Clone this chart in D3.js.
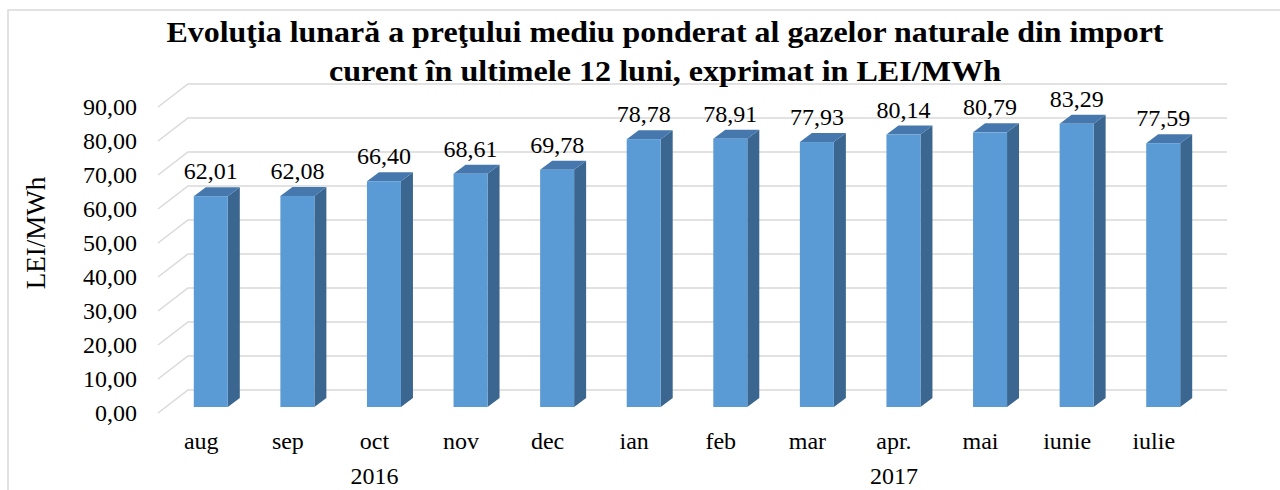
<!DOCTYPE html>
<html>
<head>
<meta charset="utf-8">
<script src="https://cdn.jsdelivr.net/npm/d3@7"></script>
<style>
  body { margin: 0; background: #fff; }
  text { font-family: "Liberation Serif", "Times New Roman", serif; fill: #000; }
</style>
</head>
<body>
<svg id="chart" width="1280" height="490"></svg>
<script>
var months = ["aug","sep","oct","nov","dec","ian","feb","mar","apr.","mai","iunie","iulie"];
var prices = [62.01, 62.08, 66.40, 68.61, 69.78, 78.78, 78.91, 77.93, 80.14, 80.79, 83.29, 77.59];
var years = [{label: "2016", from: 0, to: 4}, {label: "2017", from: 5, to: 11}];
var yTicks = [0, 10, 20, 30, 40, 50, 60, 70, 80, 90];
var titleLines = [
  "Evoluţia lunară a preţului mediu ponderat al gazelor naturale din import",
  "curent în ultimele 12 luni, exprimat in LEI/MWh"
];
var titleWidths = [997, 672];

var svg = d3.select("#chart");
var fmt = function(v) { return d3.format(".2f")(v).replace(".", ","); };

// 3d wall offset and bar offsets
var wallDx = 30, wallDy = -23;
var barDx = 9.5, barDy = -6;
var sideDx = 12, sideDy = -9;
var barW = 34;

var x = d3.scaleBand().domain(months).range([158, 1197]).padding(0);
var y = d3.scaleLinear().domain([0, 90]).range([413, 107]);

// outer frame
svg.append("path")
  .attr("d", "M8,490 L8,10 L1280,10")
  .attr("fill", "none")
  .attr("stroke", "#D9D9D9")
  .attr("stroke-width", 1.5);

// gridlines (floor edge + back wall)
svg.append("g").selectAll("path")
  .data(yTicks)
  .enter()
  .append("path")
  .attr("d", function(d) {
    var yy = y(d);
    return "M" + x.range()[0] + "," + yy +
      " L" + (x.range()[0] + wallDx) + "," + (yy + wallDy) +
      " L" + (x.range()[1] + wallDx) + "," + (yy + wallDy);
  })
  .attr("fill", "none")
  .attr("stroke", "#D9D9D9")
  .attr("stroke-width", 1.5);

// y tick labels
svg.append("g").selectAll("text")
  .data(yTicks)
  .enter()
  .append("text")
  .attr("x", 137)
  .attr("y", function(d) { return y(d); })
  .attr("dy", "0.35em")
  .attr("text-anchor", "end")
  .style("font-size", "24px")
  .text(fmt);

// bars
var bars = svg.append("g").selectAll("g")
  .data(prices)
  .enter()
  .append("g");

function barLeft(i) { return x(months[i]) + (x.bandwidth() - barW) / 2 + barDx; }
function barTop(d) { return y(d) + barDy; }
var barBottom = y(0) + barDy;

// side face
bars.append("path")
  .attr("d", function(d, i) {
    var r = barLeft(i) + barW, t = barTop(d);
    return "M" + r + "," + t + " L" + (r + sideDx) + "," + (t + sideDy) +
      " L" + (r + sideDx) + "," + (barBottom + sideDy) + " L" + r + "," + barBottom + "Z";
  })
  .attr("fill", "#3B6690");
// top face
bars.append("path")
  .attr("d", function(d, i) {
    var l = barLeft(i), t = barTop(d);
    return "M" + l + "," + t + " L" + (l + sideDx) + "," + (t + sideDy) +
      " L" + (l + barW + sideDx) + "," + (t + sideDy) + " L" + (l + barW) + "," + t + "Z";
  })
  .attr("fill", "#4678AE");
// front face
bars.append("rect")
  .attr("x", function(d, i) { return barLeft(i); })
  .attr("y", function(d) { return barTop(d); })
  .attr("width", barW)
  .attr("height", function(d) { return barBottom - barTop(d); })
  .attr("fill", "#5B9BD5");

// value labels
bars.append("text")
  .attr("x", function(d, i) { return barLeft(i) + barW / 2; })
  .attr("y", function(d) { return barTop(d) - 17; })
  .attr("text-anchor", "middle")
  .style("font-size", "24px")
  .text(fmt);

// month labels
svg.append("g").selectAll("text")
  .data(months)
  .enter()
  .append("text")
  .attr("x", function(d) { return x(d) + x.bandwidth() / 2; })
  .attr("y", 449)
  .attr("text-anchor", "middle")
  .style("font-size", "24px")
  .text(function(d) { return d; });

// year labels
svg.append("g").selectAll("text")
  .data(years)
  .enter()
  .append("text")
  .attr("x", function(d) {
    return (x(months[d.from]) + x(months[d.to]) + x.bandwidth()) / 2;
  })
  .attr("y", 484)
  .attr("text-anchor", "middle")
  .style("font-size", "24px")
  .text(function(d) { return d.label; });

// axis title
svg.append("text")
  .attr("transform", "translate(45,233) rotate(-90)")
  .attr("text-anchor", "middle")
  .style("font-size", "27px")
  .text("LEI/MWh");

// chart title
svg.append("g").selectAll("text")
  .data(titleLines)
  .enter()
  .append("text")
  .attr("x", function(d, i) { return 665 - titleWidths[i] / 2; })
  .attr("y", function(d, i) { return 42 + i * 39; })
  .attr("textLength", function(d, i) { return titleWidths[i]; })
  .attr("lengthAdjust", "spacingAndGlyphs")
  .style("font-size", "29px")
  .style("font-weight", "bold")
  .text(function(d) { return d; });
</script>
</body>
</html>
